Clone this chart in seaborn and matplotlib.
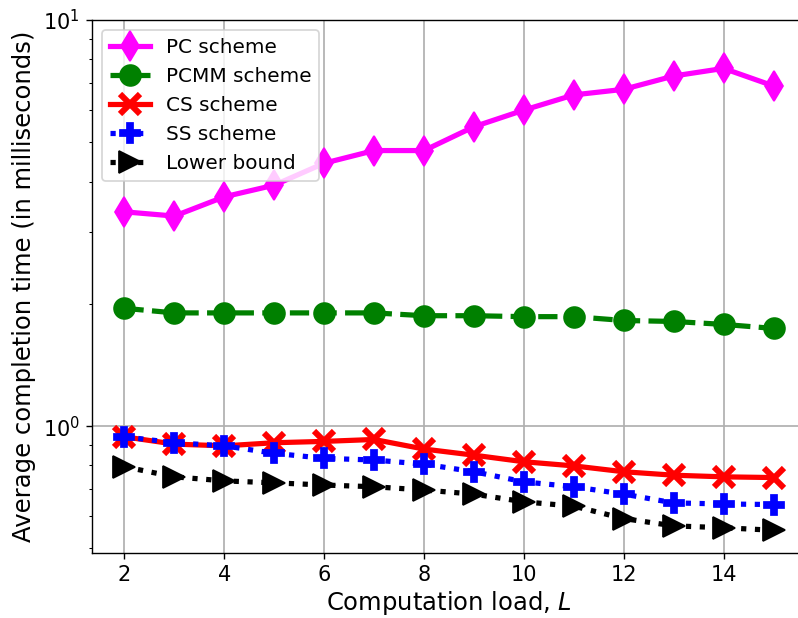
import matplotlib
matplotlib.use("Agg")
import matplotlib.pyplot as plt
import seaborn as sns
import pandas as pd

# ---- data ----
load = [2, 3, 4, 5, 6, 7, 8, 9, 10, 11, 12, 13, 14, 15]
pc_scheme = [3.37, 3.29, 3.67, 3.92, 4.44, 4.77, 4.77, 5.46, 6.00, 6.54, 6.75, 7.28, 7.60, 6.88]
pcmm_scheme = [1.95, 1.90, 1.90, 1.90, 1.90, 1.90, 1.87, 1.87, 1.86, 1.86, 1.82, 1.81, 1.78, 1.74]
cs_scheme = [0.941, 0.903, 0.894, 0.910, 0.917, 0.927, 0.878, 0.848, 0.817, 0.798, 0.772, 0.757, 0.750, 0.747]
ss_scheme = [0.941, 0.910, 0.894, 0.857, 0.833, 0.825, 0.806, 0.772, 0.729, 0.709, 0.680, 0.647, 0.643, 0.641]
lower_bound = [0.794, 0.750, 0.733, 0.725, 0.716, 0.709, 0.696, 0.680, 0.651, 0.635, 0.592, 0.568, 0.562, 0.554]
series_names = ["PC scheme", "PCMM scheme", "CS scheme", "SS scheme", "Lower bound"]
x_label = "Computation load, $L$"
y_label = "Average completion time (in milliseconds)"

series_values = [pc_scheme, pcmm_scheme, cs_scheme, ss_scheme, lower_bound]
df = pd.DataFrame({"L": load * 5,
                   "time": sum(series_values, []),
                   "scheme": sum([[n] * len(load) for n in series_names], [])})

styles = {
    "PC scheme":   dict(color="magenta", marker="d", linestyle="-", ms=12, mew=1),
    "PCMM scheme": dict(color="green", marker="o", linestyle="--", ms=12, mew=1),
    "CS scheme":   dict(color="red", marker="x", linestyle="-", ms=12, mew=3.5),
    "SS scheme":   dict(color="blue", marker="P", linestyle=":", ms=11, mew=1),
    "Lower bound": dict(color="black", marker=">", linestyle=":", ms=13, mew=1),
}

plt.rcParams["font.family"] = ["DejaVu Sans"]
fig = plt.figure(figsize=(798 / 125, 618 / 125), dpi=125)
ax = fig.add_axes([92 / 798, 65 / 618, (806 - 92) / 798, (553 - 20) / 618])

for name in series_names:
    st = styles[name]
    sub = df[df["scheme"] == name]
    sns.lineplot(data=sub, x="L", y="time", ax=ax, label=name,
                 color=st["color"], marker=st["marker"], linestyle=st["linestyle"],
                 linewidth=3, markersize=st["ms"], markeredgewidth=st["mew"],
                 markeredgecolor=st["color"])

ax.set_yscale("log")
ax.set_ylim(0.487, 10)
ax.set_xlim(1.35, 15.65)
ax.set_xticks([2, 4, 6, 8, 10, 12, 14])
ax.grid(True, which="major", color="#b0b0b0", linewidth=1.0)
ax.set_axisbelow(True)
ax.tick_params(axis="both", which="major", labelsize=12)
ax.set_xlabel(x_label, fontsize=14, labelpad=2)
ax.set_ylabel(y_label, fontsize=14)
ax.legend(loc="upper left", fontsize=11.5)

fig.savefig("out.png", dpi=125)
